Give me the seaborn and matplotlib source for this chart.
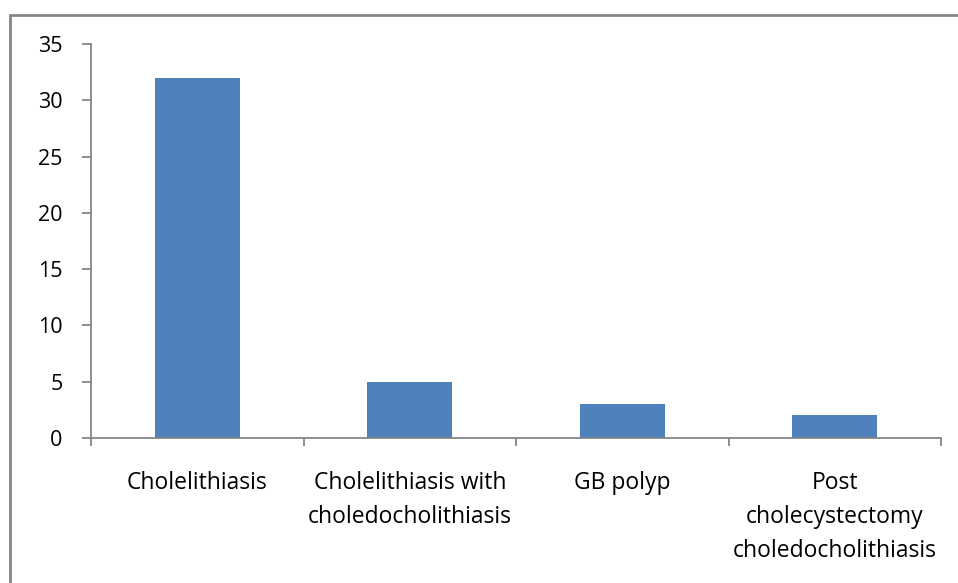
import matplotlib
matplotlib.use("Agg")
import matplotlib.pyplot as plt
import seaborn as sns
import pandas as pd
from matplotlib.lines import Line2D

categories = ["Cholelithiasis", "Cholelithiasis with\ncholedocholithiasis", "GB polyp",
              "Post\ncholecystectomy\ncholedocholithiasis"]
values = [32, 5, 3, 2]
yticks = [0, 5, 10, 15, 20, 25, 30, 35]

sns.set_theme(style="white")
plt.rcParams['font.family'] = ['Open Sans', 'DejaVu Sans']

W, H = 958, 583
fig = plt.figure(figsize=(W / 100, H / 100), dpi=100)
ax = fig.add_axes([91 / W, (H - 438) / H, (941 - 91) / W, (438 - 44) / H])

df = pd.DataFrame({"cat": categories, "val": values})
sns.barplot(data=df, x="cat", y="val", color="#4F81BD", saturation=1, width=0.4, ax=ax,
            linewidth=0)

gray = "#868686"
ax.set_ylim(0, 35)
ax.set_xlim(-0.5, len(categories) - 0.5)
ax.set_yticks(yticks)
ax.set_yticklabels([str(t) for t in yticks], fontsize=15.5)
ax.set_xlabel("")
ax.set_ylabel("")
for s in ["top", "right"]:
    ax.spines[s].set_visible(False)
for s in ["left", "bottom"]:
    ax.spines[s].set_color(gray)
    ax.spines[s].set_linewidth(1.3)
ax.tick_params(axis="y", which="major", direction="out", length=6.5, width=1.3, color=gray,
               left=True, pad=14, labelcolor="black")

# x labels at category centers, tick marks at boundaries
ax.set_xticks(range(len(categories)))
ax.set_xticklabels(categories, fontsize=16.5, linespacing=1.56, va="top")
ax.tick_params(axis="x", which="major", length=0, pad=24, labelcolor="black")
ax.set_xticks([i - 0.5 for i in range(len(categories) + 1)], minor=True)
ax.tick_params(axis="x", which="minor", direction="out", length=6, width=1.3, color=gray, bottom=True)

# outer chart border
fig.add_artist(Line2D([9.5 / W, 1.0], [1 - 14.5 / H, 1 - 14.5 / H], transform=fig.transFigure,
                      color=gray, linewidth=2))
fig.add_artist(Line2D([9.5 / W, 9.5 / W], [0, 1 - 14.5 / H], transform=fig.transFigure,
                      color=gray, linewidth=2))

fig.savefig("out.png", dpi=100)
